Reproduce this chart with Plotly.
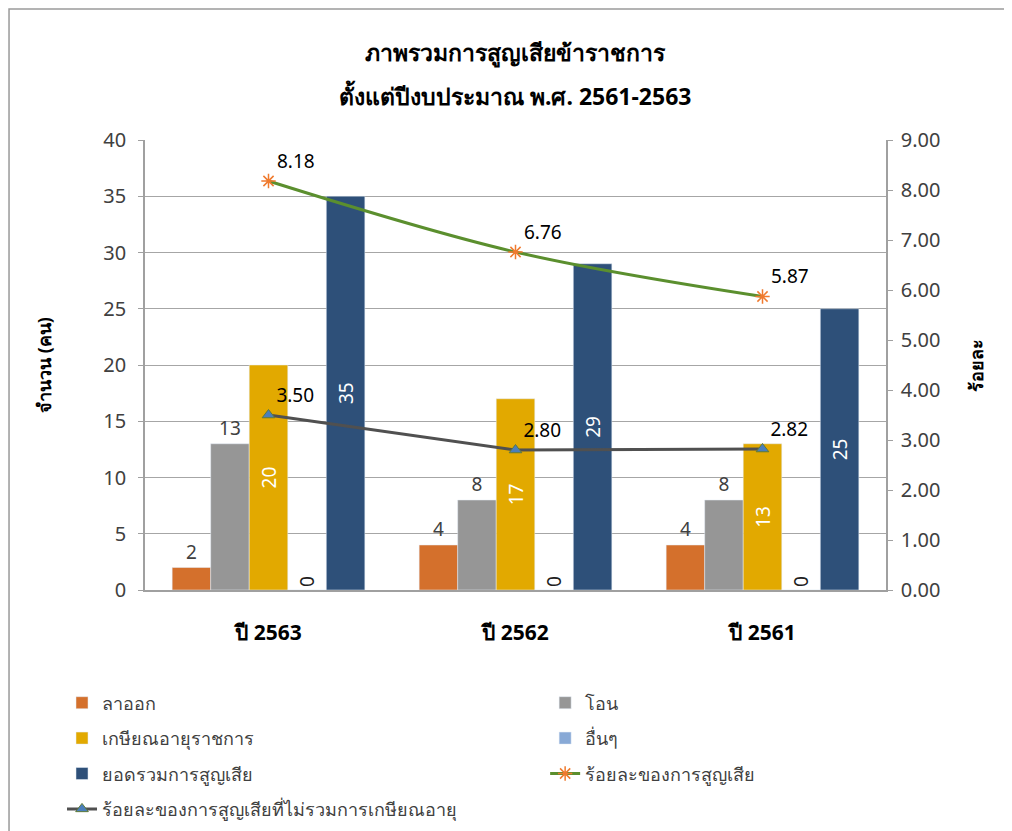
import plotly.graph_objects as go

categories = ["ปี 2563", "ปี 2562", "ปี 2561"]
resign = [2, 4, 4]
transfer = [13, 8, 8]
retire = [20, 17, 13]
others = [0, 0, 0]
total = [35, 29, 25]
pct_loss = [8.18, 6.76, 5.87]
pct_loss_no_retire = [3.50, 2.80, 2.82]
title_lines = ["ภาพรวมการสูญเสียข้าราชการ", "ตั้งแต่ปีงบประมาณ พ.ศ. 2561-2563"]

FONT = "Noto Sans, Tahoma, sans-serif"
LABEL_COLOR = "#404040"

fig = go.Figure()

def bar(name, vals, color, textpos, angle, tcolor, legend):
    fig.add_trace(go.Bar(
        name=name, x=categories, y=vals, marker_color=color,
        text=[str(v) for v in vals], textposition=textpos, textangle=angle,
        insidetextanchor="middle", cliponaxis=False,
        textfont=dict(size=19, color=tcolor, family=FONT),
        constraintext="none", legend=legend, legendgroup=name,
    ))

bar("ลาออก", resign, "#D4702C", "outside", 0, LABEL_COLOR, "legend")
bar("โอน", transfer, "#969696", "outside", 0, LABEL_COLOR, "legend2")
bar("เกษียณอายุราชการ", retire, "#E2A900", "inside", -90, "white", "legend")
bar("อื่นๆ", others, "#88A9D6", "outside", -90, "#202020", "legend2")
bar("ยอดรวมการสูญเสีย", total, "#2E5079", "inside", -90, "white", "legend")

fig.add_trace(go.Scatter(
    name="ร้อยละของการสูญเสีย", x=categories, y=pct_loss, yaxis="y2",
    mode="lines+markers+text", line=dict(color="#5B8F2E", width=3, shape="spline"),
    marker=dict(symbol="asterisk-open", size=12, line=dict(color="#F07A2E", width=1.5), color="#F07A2E"),
    text=[f"{v:.2f}" for v in pct_loss], textposition="top right",
    textfont=dict(size=19, color="black", family=FONT), cliponaxis=False,
    legend="legend2", legendgroup="pct1",
))
fig.add_trace(go.Scatter(
    name="ร้อยละของการสูญเสียที่ไม่รวมการเกษียณอายุ", x=categories, y=pct_loss_no_retire, yaxis="y2",
    mode="lines+markers+text", line=dict(color="#505050", width=3),
    marker=dict(symbol="triangle-up", size=11, color="#4A7EBB", line=dict(color="#5E7A3A", width=1)),
    text=[f"{v:.2f}" for v in pct_loss_no_retire], textposition="top right",
    textfont=dict(size=19, color="black", family=FONT), cliponaxis=False,
    legend="legend", legendgroup="pct2",
))

legend_common = dict(
    orientation="v", yanchor="top", xanchor="left",
    font=dict(size=18, color=LABEL_COLOR, family=FONT),
    traceorder="grouped", tracegroupgap=9, itemwidth=30,
    bgcolor="rgba(0,0,0,0)",
)

fig.update_layout(
    width=1012, height=831,
    margin=dict(l=137, r=134, t=132, b=249, autoexpand=False),
    paper_bgcolor="white", plot_bgcolor="white",
    font=dict(family=FONT, size=16, color=LABEL_COLOR),
    barmode="group", bargap=0.22, bargroupgap=0,
    xaxis=dict(
        showline=True, linecolor="#A0A0A0", linewidth=1.5,
        tickfont=dict(size=21, color="black", family=FONT, weight="bold"),
        ticks="", ticklabelstandoff=23,
    ),
    yaxis=dict(
        range=[0, 40], dtick=5, showgrid=True, gridcolor="#A6A6A6", gridwidth=1,
        showline=True, linecolor="#A0A0A0", linewidth=1.5,
        ticks="outside", ticklen=5, tickcolor="#A0A0A0", ticklabelstandoff=8,
        tickfont=dict(size=20, color=LABEL_COLOR),
        zeroline=False,
        title=dict(text="<b>จำนวน (คน)</b>", font=dict(size=18, color="black"), standoff=47),
    ),
    yaxis2=dict(
        range=[0, 9], dtick=1, tickformat=".2f", overlaying="y", side="right",
        showgrid=False, showline=True, linecolor="#A0A0A0", linewidth=1.5,
        ticks="outside", ticklen=5, tickcolor="#A0A0A0", ticklabelstandoff=4,
        tickfont=dict(size=20, color=LABEL_COLOR), zeroline=False,
        title=dict(text="<b>ร้อยละ</b>", font=dict(size=18, color="black"), standoff=31),
    ),
    legend=dict(x=-0.112, y=-0.21, **legend_common),
    legend2=dict(x=0.54, y=-0.21, **legend_common),
    showlegend=True,
)

for i, line in enumerate(title_lines):
    fig.add_annotation(
        text=f"<b>{line}</b>", xref="paper", yref="paper", x=0.5, y=[1.195, 1.098][i],
        xanchor="center", yanchor="middle", showarrow=False,
        font=dict(size=23, color="black", family=FONT),
    )

fig.add_shape(type="rect", xref="paper", yref="paper",
              x0=-0.1835, x1=1.3, y0=-0.7, y1=1.291,
              line=dict(color="#9A9A9A", width=1.5), fillcolor="rgba(0,0,0,0)", layer="below")

fig.write_html("out.html")
